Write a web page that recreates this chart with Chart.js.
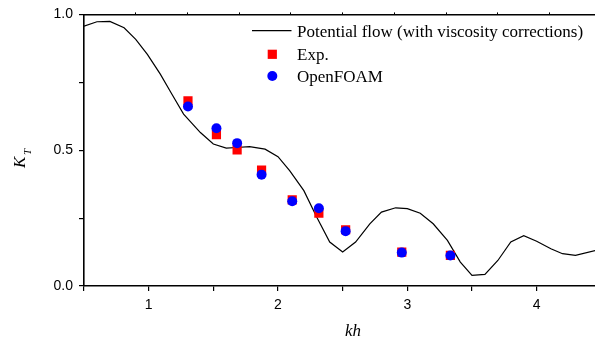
<!DOCTYPE html>
<html>
<head>
<meta charset="utf-8">
<script src="https://cdn.jsdelivr.net/npm/chart.js@4"></script>
<style>
  html, body { margin: 0; background: #fff; overflow: hidden; }
  canvas { display: block; }
</style>
</head>
<body>
<canvas id="kt" width="602" height="342"></canvas>
<script>
// potential flow curve (kh, K_T)
const khCurve = [0.50, 0.60, 0.70, 0.81, 0.90, 0.99, 1.09, 1.18, 1.27, 1.40, 1.50, 1.60, 1.68, 1.78, 1.90, 2.00,
  2.09, 2.20, 2.30, 2.40, 2.50, 2.60, 2.71, 2.80, 2.91, 3.00, 3.10, 3.20, 3.31, 3.41, 3.50, 3.60, 3.70, 3.80,
  3.90, 4.00, 4.11, 4.20, 4.30, 4.46];
const ktCurve = [0.957, 0.973, 0.974, 0.951, 0.908, 0.853, 0.780, 0.706, 0.633, 0.565, 0.523, 0.508, 0.510, 0.513, 0.504, 0.476,
  0.425, 0.351, 0.253, 0.162, 0.125, 0.162, 0.229, 0.272, 0.288, 0.285, 0.268, 0.229, 0.168, 0.088, 0.039, 0.043, 0.094, 0.162,
  0.185, 0.165, 0.137, 0.119, 0.113, 0.131];

// experiment
const khExp = [1.304, 1.524, 1.684, 1.873, 2.110, 2.316, 2.523, 2.957, 3.333];
const ktExp = [0.682, 0.557, 0.501, 0.427, 0.317, 0.268, 0.207, 0.125, 0.113];

// OpenFOAM
const khFoam = [1.304, 1.524, 1.684, 1.873, 2.110, 2.316, 2.523, 2.957, 3.333];
const ktFoam = [0.661, 0.581, 0.526, 0.410, 0.312, 0.286, 0.202, 0.123, 0.112];

const xTicks = [0.5, 1, 1.5, 2, 2.5, 3, 3.5, 4];
const xTopTicks = [0.9, 1.3, 1.7, 2.1, 2.5, 2.9, 3.3, 3.7, 4.1];
const yTicks = [0, 0.25, 0.5, 0.75, 1.0];

const legendLabels = ['Potential flow (with viscosity corrections)', 'Exp.', 'OpenFOAM'];

const pts = (xs, ys) => xs.map((x, i) => ({ x: x, y: ys[i] }));

// legend + axis titles drawn by hand
const extras = {
  id: 'extras',
  afterDraw(chart) {
    const ctx = chart.ctx;
    ctx.save();
    ctx.fillStyle = '#000';
    ctx.strokeStyle = '#000';

    // legend
    ctx.lineWidth = 1.2;
    ctx.beginPath();
    ctx.moveTo(252, 30.7);
    ctx.lineTo(291.5, 30.7);
    ctx.stroke();
    ctx.fillStyle = '#ff0000';
    ctx.fillRect(272.3 - 4.6, 54.3 - 4.6, 9.2, 9.2);
    ctx.fillStyle = '#0000ff';
    ctx.beginPath();
    ctx.arc(272.3, 76, 5, 0, Math.PI * 2);
    ctx.fill();

    ctx.fillStyle = '#000';
    ctx.font = '17px "Liberation Serif"';
    ctx.textBaseline = 'alphabetic';
    ctx.textAlign = 'left';
    ctx.fillText(legendLabels[0], 297, 37.3);
    ctx.fillText(legendLabels[1], 297, 59.5);
    ctx.fillText(legendLabels[2], 297, 81.7);

    // x title
    ctx.font = 'italic 17px "Liberation Serif"';
    ctx.fillText('kh', 345, 336);

    // y title K_T
    ctx.translate(24.5, 168);
    ctx.rotate(-Math.PI / 2);
    ctx.font = 'italic 17px "Liberation Serif"';
    ctx.fillText('K', 0, 0);
    ctx.font = 'italic 11px "Liberation Serif"';
    ctx.fillText('T', 13, 6.5);
    ctx.restore();
  }
};

new Chart(document.getElementById('kt'), {
  type: 'scatter',
  data: {
    datasets: [
      {
        label: legendLabels[0],
        data: pts(khCurve, ktCurve),
        showLine: true,
        borderColor: '#000',
        borderWidth: 1.2,
        pointRadius: 0,
        tension: 0,
        order: 3
      },
      {
        label: legendLabels[1],
        data: pts(khExp, ktExp),
        pointStyle: 'rect',
        pointRadius: 6.5,
        backgroundColor: '#ff0000',
        borderColor: '#ff0000',
        borderWidth: 0,
        order: 2
      },
      {
        label: legendLabels[2],
        data: pts(khFoam, ktFoam),
        pointStyle: 'circle',
        pointRadius: 5,
        backgroundColor: '#0000ff',
        borderColor: '#0000ff',
        borderWidth: 0,
        order: 1
      }
    ]
  },
  options: {
    responsive: false,
    animation: false,
    layout: { padding: 0 },
    plugins: {
      legend: { display: false },
      tooltip: { enabled: false }
    },
    scales: {
      x: {
        type: 'linear',
        min: 0.5,
        max: 4.455,
        afterBuildTicks: s => { s.ticks = xTicks.map(v => ({ value: v })); },
        afterFit: s => { s.height = 56; },
        ticks: {
          color: '#000',
          font: { family: '"Liberation Sans"', size: 14 },
          padding: 6,
          maxRotation: 0,
          callback: v => Number.isInteger(v) ? String(v) : ''
        },
        grid: { drawOnChartArea: false, color: '#000', tickLength: 5, lineWidth: 1.2 },
        border: { color: '#000', width: 1.6 }
      },
      x2: {
        type: 'linear',
        position: 'top',
        min: 0.5,
        max: 4.455,
        afterBuildTicks: s => { s.ticks = xTopTicks.map(v => ({ value: v })); },
        afterFit: s => { s.height = 13; },
        ticks: { display: false },
        grid: { drawOnChartArea: false, color: '#000', tickLength: 2, lineWidth: 1 },
        border: { color: '#000', width: 1.6 }
      },
      y: {
        min: 0,
        max: 1,
        afterBuildTicks: s => { s.ticks = yTicks.map(v => ({ value: v })); },
        afterFit: s => { s.width = 84; },
        ticks: {
          color: '#000',
          font: { family: '"Liberation Sans"', size: 14 },
          padding: 6,
          callback: v => Math.abs(v * 2 - Math.round(v * 2)) < 1e-9 ? v.toFixed(1) : ''
        },
        grid: { drawOnChartArea: false, color: '#000', tickLength: 5, lineWidth: 1.2 },
        border: { color: '#000', width: 1.6 }
      }
    }
  },
  plugins: [extras]
});
</script>
</body>
</html>
